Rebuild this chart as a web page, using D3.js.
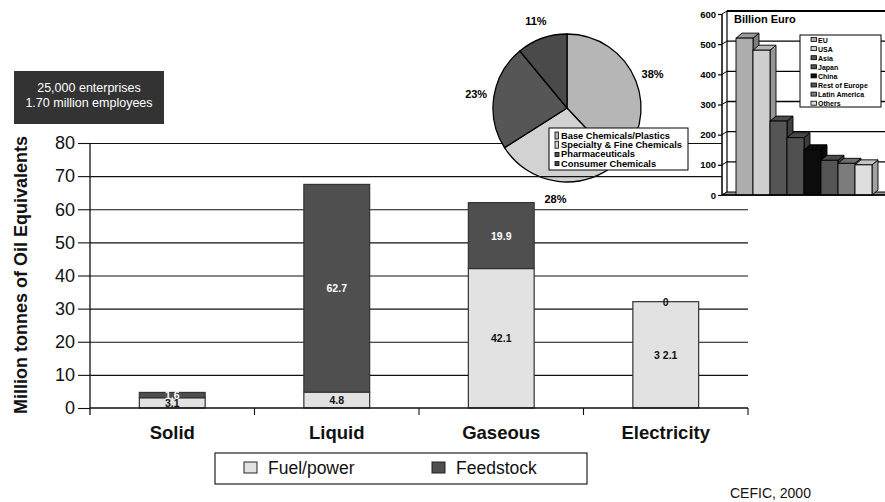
<!DOCTYPE html>
<html>
<head>
<meta charset="utf-8">
<script src="https://cdn.jsdelivr.net/npm/d3@7/dist/d3.min.js"></script>
<style>
  html, body { margin: 0; padding: 0; background: #fff; }
  svg { display: block; font-family: "Liberation Sans", Arial, Helvetica, sans-serif; }
</style>
</head>
<body>
<svg id="chart" width="885" height="502"></svg>
<script>
// ---------- data ----------
const categories = ["Solid", "Liquid", "Gaseous", "Electricity"];
const fuel = [3.1, 4.8, 42.1, 32.1];
const feedstock = [1.6, 62.7, 19.9, 0];
const fuelLabels = ["3.1", "4.8", "42.1", "3 2.1"];
const feedLabels = ["1.6", "62.7", "19.9", "0"];
const yTicks = [0, 10, 20, 30, 40, 50, 60, 70, 80];
const seriesNames = ["Fuel/power", "Feedstock"];

const pieNames = ["Base Chemicals/Plastics", "Specialty & Fine Chemicals", "Pharmaceuticals", "Consumer Chemicals"];
const pieValues = [38, 28, 23, 11];

const regions = ["EU", "USA", "Asia", "Japan", "China", "Rest of Europe", "Latin America", "Others"];
const sales = [520, 480, 245, 190, 150, 115, 105, 100];
const salesTicks = [0, 100, 200, 300, 400, 500, 600];

const infoLines = ["25,000 enterprises", "1.70 million employees"];
const sourceText = "CEFIC, 2000";

// ---------- styles ----------
const cFuel = "#e2e2e2", cFeed = "#4f4f4f";
const pieColors = ["#b6b6b6", "#d2d2d2", "#565656", "#4a4a4a"];
const regionColors = ["#adadad", "#cfcfcf", "#555555", "#505050", "#0c0c0c", "#555555", "#7c7c7c", "#dedede"];

const svg = d3.select("#chart");

// ---------- main scales ----------
const x = d3.scaleBand().domain(categories).range([90, 748]).paddingInner(0.6).paddingOuter(0.3);
const y = d3.scaleLinear().domain([0, 80]).range([408, 143]);

const layerTopGrid = svg.append("g");
const layerPie = svg.append("g");
const layerGrid = svg.append("g");
const layerBars = svg.append("g");
const layerAxis = svg.append("g");
const layer3d = svg.append("g");
const layerMisc = svg.append("g");

// gridlines (top one hidden under the pie, the rest drawn over)
function grid(g, vals) {
  g.append("g")
    .attr("transform", "translate(90,0)")
    .call(d3.axisLeft(y).tickValues(vals).tickSize(-658).tickFormat(""))
    .call(s => s.select(".domain").remove())
    .call(s => s.selectAll("line").attr("stroke", "#111").attr("stroke-width", 1.1));
}
grid(layerTopGrid, yTicks.filter(d => d === 80));
grid(layerGrid, yTicks.filter(d => d > 0 && d < 80));

// ---------- pie ----------
const pcx = 567, pcy = 108, pr = 74;
const pie = d3.pie().sort(null).value(d => d);
const arcs = pie(pieValues);
const arc = d3.arc().innerRadius(0).outerRadius(pr);
const pg = layerPie.append("g").attr("transform", `translate(${pcx},${pcy})`);
pg.selectAll("path").data(arcs).join("path")
  .attr("d", arc)
  .attr("fill", (d, i) => pieColors[i])
  .attr("stroke", "#000").attr("stroke-width", 1.3);
const labelArc = d3.arc().innerRadius(pr + 18).outerRadius(pr + 18);
pg.selectAll("text").data(arcs).join("text")
  .attr("x", d => labelArc.centroid(d)[0])
  .attr("y", d => labelArc.centroid(d)[1])
  .attr("text-anchor", "middle").attr("dominant-baseline", "central")
  .attr("font-size", 11).attr("font-weight", "bold")
  .text(d => d.data + "%");
// pie legend
const pl = layerPie.append("g");
pl.append("rect").attr("x", 549).attr("y", 128).attr("width", 139).attr("height", 42)
  .attr("fill", "#fff").attr("stroke", "#000").attr("stroke-width", 1);
pieNames.forEach((n, i) => {
  const by = 139 + i * 9.2;
  const tall = i < 2;
  pl.append("rect").attr("x", 555).attr("y", tall ? by - 7 : by - 5).attr("width", tall ? 3.5 : 4).attr("height", tall ? 7 : 4)
    .attr("fill", pieColors[i]).attr("stroke", "#000").attr("stroke-width", 0.8);
  pl.append("text").attr("x", 561).attr("y", by).attr("font-size", 9.3).attr("font-weight", "bold").text(n);
});

// ---------- bars ----------
const bars = layerBars.selectAll("g.bar").data(categories).join("g");
bars.append("rect")
  .attr("x", d => x(d)).attr("width", x.bandwidth())
  .attr("y", (d, i) => y(fuel[i])).attr("height", (d, i) => y(0) - y(fuel[i]))
  .attr("fill", cFuel).attr("stroke", "#333").attr("stroke-width", 1.2);
bars.filter((d, i) => feedstock[i] > 0).append("rect")
  .attr("x", d => x(d)).attr("width", x.bandwidth())
  .attr("y", d => { const i = categories.indexOf(d); return y(fuel[i] + feedstock[i]); })
  .attr("height", d => { const i = categories.indexOf(d); return y(fuel[i]) - y(fuel[i] + feedstock[i]); })
  .attr("fill", cFeed).attr("stroke", "#333").attr("stroke-width", 1.2);
bars.append("text")
  .attr("x", d => x(d) + x.bandwidth() / 2)
  .attr("y", (d, i) => y(fuel[i] / 2))
  .attr("text-anchor", "middle").attr("dominant-baseline", "central")
  .attr("font-size", 10.5).attr("font-weight", "bold").attr("fill", "#111")
  .text((d, i) => fuelLabels[i]);
bars.append("text")
  .attr("x", d => x(d) + x.bandwidth() / 2)
  .attr("y", (d, i) => y(fuel[i] + feedstock[i] / 2))
  .attr("text-anchor", "middle").attr("dominant-baseline", "central")
  .attr("font-size", 10.5).attr("font-weight", "bold")
  .attr("fill", (d, i) => feedstock[i] > 0 ? "#fff" : "#111")
  .text((d, i) => feedLabels[i]);

// ---------- axes ----------
const ya = layerAxis.append("g").attr("transform", "translate(90,0)")
  .call(d3.axisLeft(y).tickValues(yTicks).tickSize(12).tickSizeOuter(0).tickPadding(3));
ya.select(".domain").remove();
ya.selectAll("line").attr("stroke", "#111").attr("stroke-width", 1.1);
ya.selectAll("text").attr("font-size", 18).attr("fill", "#111").attr("font-family", "Liberation Sans, Arial, sans-serif");
layerAxis.append("line").attr("x1", 90).attr("x2", 90).attr("y1", y(80)).attr("y2", y(0) + 7)
  .attr("stroke", "#111").attr("stroke-width", 1.3);
// x baseline and category ticks
layerAxis.append("line").attr("x1", 90).attr("x2", 748).attr("y1", y(0)).attr("y2", y(0))
  .attr("stroke", "#111").attr("stroke-width", 1.3);
const bounds = categories.map(d => x(d) + x.bandwidth() + x.step() * x.paddingInner() / 2);
layerAxis.selectAll("line.ct").data(bounds).join("line")
  .attr("x1", d => d).attr("x2", d => d).attr("y1", y(0)).attr("y2", y(0) + 7)
  .attr("stroke", "#111").attr("stroke-width", 1.1);
layerAxis.selectAll("text.cat").data(categories).join("text")
  .attr("x", d => x(d) + x.bandwidth() / 2).attr("y", 439)
  .attr("text-anchor", "middle").attr("font-size", 18.5).attr("font-weight", "bold").attr("fill", "#111")
  .text(d => d);
layerAxis.append("text")
  .attr("transform", "translate(27,275) rotate(-90)")
  .attr("text-anchor", "middle").attr("font-size", 18).attr("font-weight", "bold").attr("fill", "#111")
  .text("Million tonnes of Oil Equivalents");

// ---------- 3D bar chart ----------
const y3 = d3.scaleLinear().domain([0, 600]).range([195, 14]);
const x3 = d3.scaleBand().domain(regions).range([736, 872]).padding(0);
const wdx = 5, wdy = 3;   // wall depth
const bdx = 6, bdy = 5;   // bar depth
const g3 = layer3d.append("g");
g3.append("rect").attr("x", 722).attr("y", 8).attr("width", 170).attr("height", 190).attr("fill", "#fff");
// back wall gridlines
g3.selectAll("line.bg").data(salesTicks.filter(d => d > 0)).join("line")
  .attr("x1", 722 + wdx).attr("x2", 890).attr("y1", d => y3(d) - wdy).attr("y2", d => y3(d) - wdy)
  .attr("stroke", "#000").attr("stroke-width", d => d === 600 ? 2 : 1.4);
// side wall diagonals
g3.selectAll("line.sd").data(salesTicks).join("line")
  .attr("x1", 722).attr("x2", 722 + wdx).attr("y1", d => y3(d)).attr("y2", d => y3(d) - wdy)
  .attr("stroke", "#000").attr("stroke-width", 1);
g3.append("line").attr("x1", 722 + wdx).attr("x2", 722 + wdx).attr("y1", y3(600) - wdy).attr("y2", y3(0) - wdy)
  .attr("stroke", "#000").attr("stroke-width", 1.2);
// floor
g3.append("path").attr("d", `M722,${y3(0)}L${722 + wdx},${y3(0) - wdy}L890,${y3(0) - wdy}L890,${y3(0)}Z`)
  .attr("fill", "#999").attr("stroke", "#000").attr("stroke-width", 1);
// bars
regions.forEach((r, i) => {
  const x0 = x3(r), x1 = x0 + x3.bandwidth(), yt = y3(sales[i]), yb = y3(0);
  const c = d3.color(regionColors[i]);
  const gb = g3.append("g");
  gb.append("path").attr("d", `M${x1},${yt}L${x1 + bdx},${yt - bdy}L${x1 + bdx},${yb - bdy}L${x1},${yb}Z`)
    .attr("fill", c.darker(0.9)).attr("stroke", "#000").attr("stroke-width", 0.9);
  gb.append("path").attr("d", `M${x0},${yt}L${x0 + bdx},${yt - bdy}L${x1 + bdx},${yt - bdy}L${x1},${yt}Z`)
    .attr("fill", c.darker(0.35)).attr("stroke", "#000").attr("stroke-width", 0.9);
  gb.append("rect").attr("x", x0).attr("y", yt).attr("width", x1 - x0).attr("height", yb - yt)
    .attr("fill", c).attr("stroke", "#000").attr("stroke-width", 0.9);
});
// front axis
g3.append("line").attr("x1", 722).attr("x2", 722).attr("y1", y3(600)).attr("y2", y3(0))
  .attr("stroke", "#000").attr("stroke-width", 1.5);
g3.append("line").attr("x1", 722).attr("x2", 890).attr("y1", y3(0)).attr("y2", y3(0))
  .attr("stroke", "#000").attr("stroke-width", 1.5);
const a3 = g3.append("g").attr("transform", "translate(722,0)")
  .call(d3.axisLeft(y3).tickValues(salesTicks).tickSize(4).tickSizeOuter(0).tickPadding(2));
a3.select(".domain").remove();
a3.selectAll("line").attr("stroke", "#000").attr("stroke-width", 1.2);
a3.selectAll("text").attr("font-size", 9.5).attr("font-weight", "bold").attr("fill", "#000")
  .attr("font-family", "Liberation Sans, Arial, sans-serif");
g3.append("text").attr("x", 734).attr("y", 23).attr("font-size", 11).attr("font-weight", "bold").text("Billion Euro");
// 3D legend
g3.append("rect").attr("x", 800).attr("y", 35).attr("width", 81).attr("height", 72)
  .attr("fill", "#fff").attr("stroke", "#000").attr("stroke-width", 1);
regions.forEach((r, i) => {
  const by = 42.5 + i * 9.1;
  g3.append("rect").attr("x", 811).attr("y", by - 5).attr("width", 5.5).attr("height", 4)
    .attr("fill", regionColors[i]).attr("stroke", "#000").attr("stroke-width", 0.8);
  g3.append("text").attr("x", 818).attr("y", by).attr("font-size", 7).attr("font-weight", "bold").text(r);
});

// ---------- misc ----------
layerMisc.append("rect").attr("x", 14).attr("y", 71).attr("width", 150).attr("height", 53).attr("fill", "#333");
infoLines.forEach((t, i) => {
  layerMisc.append("text").attr("x", 89).attr("y", 92 + i * 15).attr("text-anchor", "middle")
    .attr("font-size", 12.5).attr("fill", "#fff").text(t);
});
const lg = layerMisc.append("g");
lg.append("rect").attr("x", 215).attr("y", 453).attr("width", 372).attr("height", 31)
  .attr("fill", "#fff").attr("stroke", "#222").attr("stroke-width", 1.2);
[[244, 268], [432, 456]].forEach((p, i) => {
  lg.append("rect").attr("x", p[0]).attr("y", 462).attr("width", 13).attr("height", 11)
    .attr("fill", i === 0 ? cFuel : cFeed).attr("stroke", "#222").attr("stroke-width", 1);
  lg.append("text").attr("x", p[1]).attr("y", 474).attr("font-size", 17.5).attr("fill", "#111").text(seriesNames[i]);
});
layerMisc.append("text").attr("x", 730).attr("y", 498).attr("font-size", 14).attr("fill", "#111").text(sourceText);
</script>
</body>
</html>
